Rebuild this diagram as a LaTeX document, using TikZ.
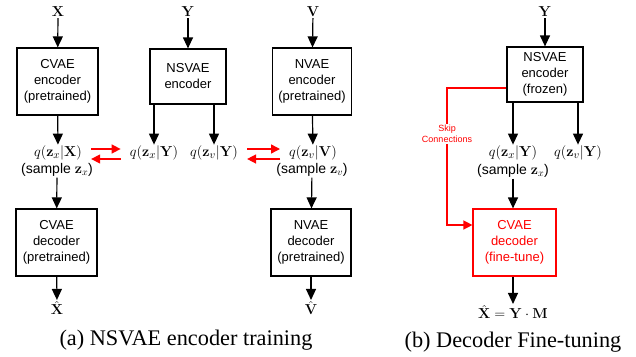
\documentclass[tikz,border=0pt]{standalone}
\usepackage[no-math]{fontspec}
\setmainfont{Liberation Sans}
\newfontfamily\capfont{Liberation Serif}
\usetikzlibrary{arrows.meta,calc}
\begin{document}
\begin{tikzpicture}[x=1pt,y=-1pt,
  box/.style={draw,line width=1.2pt,align=center,inner sep=0pt,font=\fontsize{13}{16}\selectfont},
  lbl/.style={inner sep=1pt,font=\fontsize{15}{18}\selectfont},
  smp/.style={inner sep=1pt,font=\fontsize{14}{16}\selectfont},
  arr/.style={line width=1.2pt,-{Triangle[length=11pt,width=10pt]}},
  redarr/.style={red,line width=1.4pt,-{Triangle[length=9pt,width=9pt]}},
  captxt/.style={inner sep=0pt,font=\capfont\fontsize{22.3}{26}\selectfont}]
\useasboundingbox (0,0) rectangle (636,356);
% panel (a)
\node[lbl] (X) at (58,12) {$\mathbf{X}$};
\node[lbl] (Y) at (188,12) {$\mathbf{Y}$};
\node[lbl] (V) at (313,12) {$\mathbf{V}$};
\node[box,minimum width=81pt,minimum height=67pt] (encX) at (57.5,81.5) {CVAE\\encoder\\(pretrained)};
\node[box,minimum width=76pt,minimum height=55pt] (encY) at (188,76.5) {NSVAE\\encoder};
\node[box,minimum width=79pt,minimum height=67pt] (encV) at (312,81.5) {NVAE\\encoder\\(pretrained)};
\node[lbl] (qxX) at (58,153) {$q(\mathbf{z}_x|\mathbf{X})$};
\node[smp] (sX) at (57,170) {(sample $\mathbf{z}_x$)};
\node[lbl] (qxY) at (154,153) {$q(\mathbf{z}_x|\mathbf{Y})$};
\node[lbl] (qvY) at (214,153) {$q(\mathbf{z}_v|\mathbf{Y})$};
\node[lbl] (qvV) at (313,153) {$q(\mathbf{z}_v|\mathbf{V})$};
\node[smp] (sV) at (312,170) {(sample $\mathbf{z}_v$)};
\node[box,minimum width=81pt,minimum height=67pt] (decX) at (56.5,242.5) {CVAE\\decoder\\(pretrained)};
\node[box,minimum width=80pt,minimum height=67pt] (decV) at (311,242.5) {NVAE\\decoder\\(pretrained)};
\node[lbl] (Xh) at (57,308) {$\hat{\mathbf{X}}$};
\node[lbl] (Vh) at (311,308) {$\hat{\mathbf{V}}$};
\draw[arr] (X) -- (encX);
\draw[arr] (Y) -- (encY);
\draw[arr] (V) -- (encV);
\draw[arr] (encX) -- (qxX);
\draw[arr] (encV) -- (qvV);
\draw[arr] (encY.south -| qxY) -- (qxY.north);
\draw[arr] (encY.south -| qvY) -- (qvY.north);
\draw[arr] (sX) -- (decX);
\draw[arr] (sV) -- (decV);
\draw[arr] (decX) -- (Xh);
\draw[arr] (decV) -- (Vh);
\draw[redarr] ([shift={(8,-4)}]qxX.east) -- ([shift={(-8,-4)}]qxY.west);
\draw[redarr] ([shift={(-8,6)}]qxY.west) -- ([shift={(8,6)}]qxX.east);
\draw[redarr] ([shift={(8,-4)}]qvY.east) -- ([shift={(-8,-4)}]qvV.west);
\draw[redarr] ([shift={(-8,6)}]qvV.west) -- ([shift={(8,6)}]qvY.east);
\node[captxt] (capa) at (186,340) {(a) NSVAE encoder training};
% panel (b)
\node[lbl] (Y2) at (545,12) {$\mathbf{Y}$};
\node[box,minimum width=76pt,minimum height=55pt] (encF) at (545,74.5) {NSVAE\\encoder\\(frozen)};
\node[lbl] (qxY2) at (513,153) {$q(\mathbf{z}_x|\mathbf{Y})$};
\node[lbl] (qvY2) at (578,153) {$q(\mathbf{z}_v|\mathbf{Y})$};
\node[smp] (sX2) at (513,171) {(sample $\mathbf{z}_x$)};
\node[box,red,text=red,minimum width=83pt,minimum height=67pt] (decF) at (514.5,242.5) {CVAE\\decoder\\(fine-tune)};
\node[lbl] (XM) at (513,312) {$\hat{\mathbf{X}}=\mathbf{Y}\cdot\mathbf{M}$};
\draw[arr] (Y2) -- (encF);
\draw[arr] (encF.south -| qxY2) -- (qxY2.north);
\draw[arr] (encF.south -| qvY2) -- (qvY2.north);
\draw[arr] (sX2) -- (decF.north -| sX2);
\draw[arr] (decF.south -| XM) -- (XM);
\coordinate (skipc) at (447,134);
\draw[redarr] ([yshift=-13.5]encF.west) -| (skipc) |- ([yshift=17.5]decF.west);
\node[fill=white,text=red,align=center,inner sep=1pt,font=\fontsize{9}{10.5}\selectfont] (skip) at (skipc) {Skip\\Connections};
\node[captxt] (capb) at (513,342) {(b) Decoder Fine-tuning};
\end{tikzpicture}
\end{document}
